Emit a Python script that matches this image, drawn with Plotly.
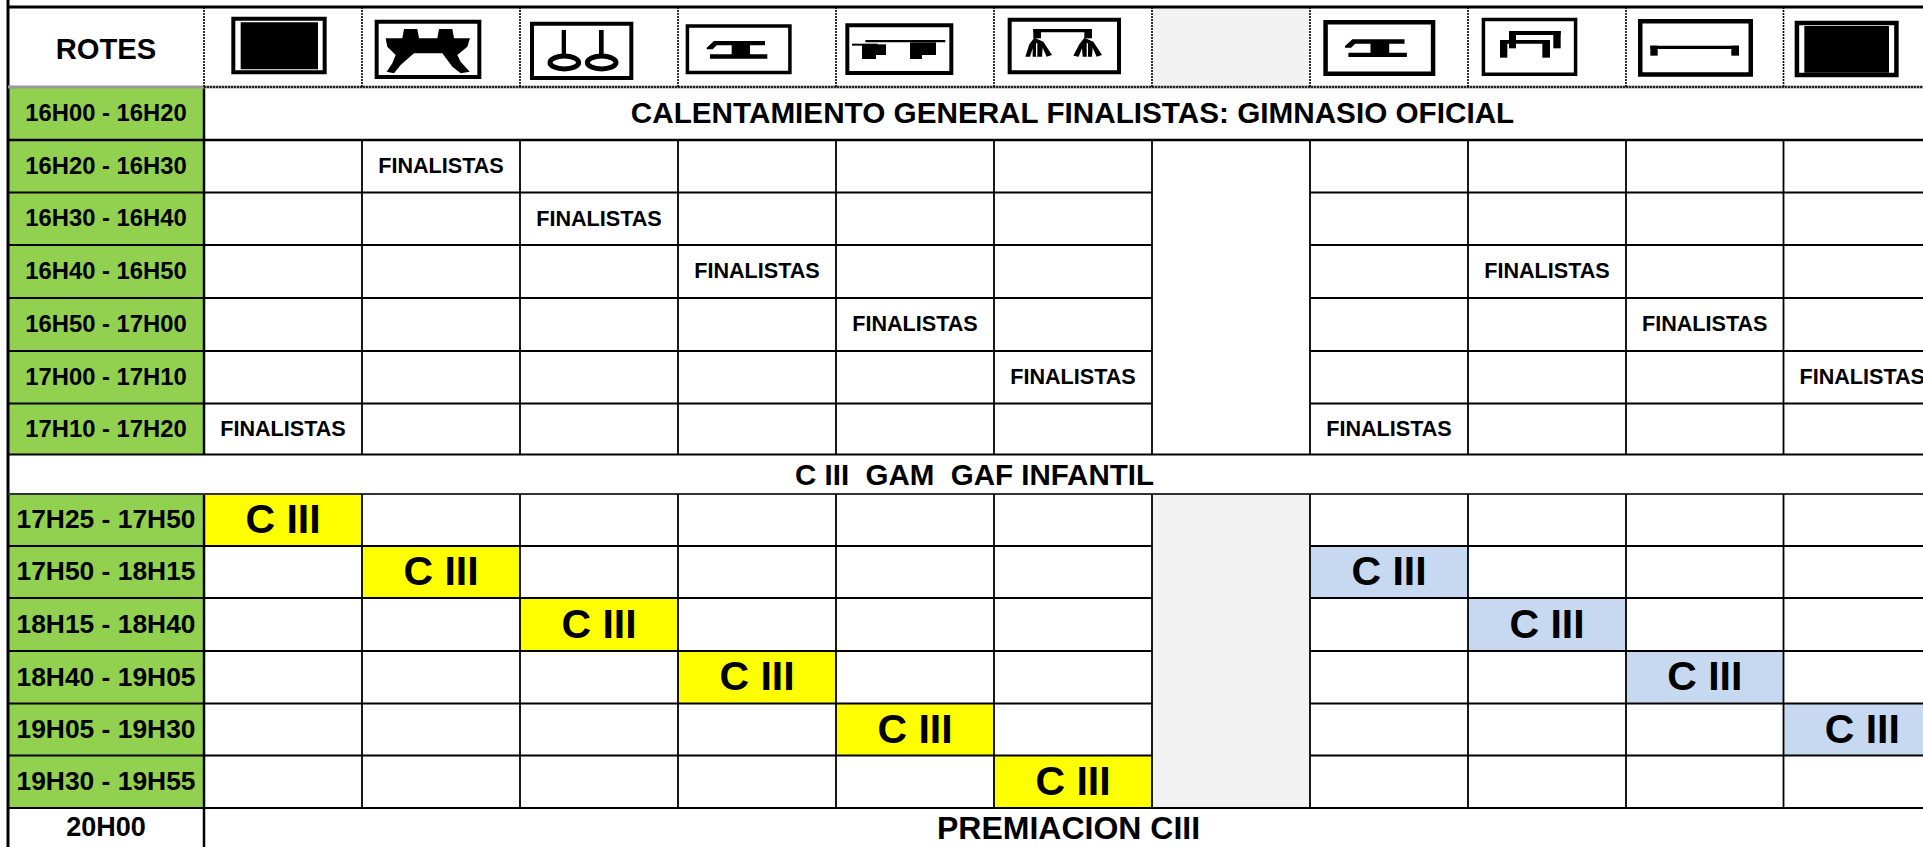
import plotly.graph_objects as go

# ---------- content ----------
corner_label = "ROTES"
warmup_time = "16H00 - 16H20"
warmup_title = "CALENTAMIENTO GENERAL FINALISTAS: GIMNASIO OFICIAL"
final_times = ["16H20 - 16H30", "16H30 - 16H40", "16H40 - 16H50", "16H50 - 17H00", "17H00 - 17H10", "17H10 - 17H20"]
section_title = "C III\u00a0 GAM\u00a0 GAF INFANTIL"
ciii_times = ["17H25 - 17H50", "17H50 - 18H15", "18H15 - 18H40", "18H40 - 19H05", "19H05 - 19H30", "19H30 - 19H55"]
award_time = "20H00"
award_title = "PREMIACION CIII"
final_label = "FINALISTAS"
ciii_label = "C III"
# (row in final_times, apparatus column)
final_cells = [(0, 1), (1, 2), (2, 3), (2, 8), (3, 4), (3, 9), (4, 5), (4, 10), (5, 0), (5, 7)]
# (row in ciii_times, apparatus column)
ciii_yellow = [(0, 0), (1, 1), (2, 2), (3, 3), (4, 4), (5, 5)]
ciii_blue = [(1, 7), (2, 8), (3, 9), (4, 10)]

# ---------- layout ----------
W, H = 1923, 847
LEFT, C0 = 8, 204
COLS = [204, 362, 520, 678, 836, 994, 1152, 1310, 1468, 1626, 1783.5, 1941]
GAP = 6
Y_TOP, Y_HEAD = 7, 87
Y_WARM = 140
Y_FINAL = [140, 192.5, 245, 298, 351, 403.5, 454.5]
Y_SECT = 494
Y_CIII = [494, 546, 598, 651, 703.5, 755.5, 808]
GREEN, YELLOW, BLUE, GREY = "#92D050", "#FFFF00", "#C6D9F0", "#F2F2F2"
FONT = "Liberation Sans"

shapes = []


def rect(x0, y0, x1, y1, fill):
    shapes.append(dict(type="rect", x0=x0, y0=y0, x1=x1, y1=y1, fillcolor=fill,
                       line=dict(width=0), layer="below"))


def line(x0, y0, x1, y1, w=2, dash="solid", color="#000000"):
    shapes.append(dict(type="line", x0=x0, y0=y0, x1=x1, y1=y1,
                       line=dict(width=w, color=color, dash=dash), layer="above"))


def poly(points, fill="#000000", ox=0, oy=5):
    d = "M " + " L ".join(f"{ox + x / 3:.2f},{oy + y / 3:.2f}" for x, y in points) + " Z"
    shapes.append(dict(type="path", path=d, fillcolor=fill, line=dict(width=0), layer="above"))


def box(x0, y0, x1, y1, ox, thick=4, oy=5):
    shapes.append(dict(type="rect", x0=ox + x0 / 3 + thick / 2, y0=oy + y0 / 3 + thick / 2,
                       x1=ox + x1 / 3 - thick / 2, y1=oy + y1 / 3 - thick / 2,
                       fillcolor="#FFFFFF", line=dict(width=thick, color="#000000"), layer="above"))


def bars(rs, ox, oy=5, fill="#000000"):
    for a, b, c, d in rs:
        poly([(a, b), (c, b), (c, d), (a, d)], ox=ox, oy=oy, fill=fill)


# ---------- fills ----------
rect(C0, Y_TOP, COLS[6], Y_HEAD, "#FFFFFF")
rect(COLS[GAP], Y_TOP, COLS[GAP + 1], Y_HEAD, GREY)
rect(COLS[GAP], Y_CIII[0], COLS[GAP + 1], Y_CIII[-1], GREY)
rect(LEFT, Y_HEAD, C0, Y_WARM, GREEN)
rect(LEFT, Y_FINAL[0], C0, Y_FINAL[-1], GREEN)
rect(LEFT, Y_CIII[0], C0, Y_CIII[-1], GREEN)
for cells, col in ((ciii_yellow, YELLOW), (ciii_blue, BLUE)):
    for r, c in cells:
        rect(COLS[c], Y_CIII[r], COLS[c + 1], Y_CIII[r + 1], col)

# ---------- rules ----------
line(LEFT, 0, LEFT, H, 3)
line(C0, Y_HEAD, C0, Y_FINAL[-1], 2.5)
line(C0, Y_CIII[0], C0, H, 2.5)
line(LEFT, Y_TOP, W, Y_TOP, 3)
line(LEFT, Y_HEAD, W, Y_HEAD, 3, color="#9a9a9a")
line(C0, Y_HEAD, W, Y_HEAD, 1.5, "2px,1px")
line(LEFT, Y_WARM, W, Y_WARM, 2.5)
for y in Y_FINAL[1:-1]:
    line(LEFT, y, COLS[GAP], y, 2.2)
    line(COLS[GAP + 1], y, W, y, 2.2)
line(LEFT, Y_FINAL[-1], W, Y_FINAL[-1], 2)
line(LEFT, Y_SECT, W, Y_SECT, 2, color="#333333")
for y in Y_CIII[1:-1]:
    line(LEFT, y, COLS[GAP], y, 2.2)
    line(COLS[GAP + 1], y, W, y, 2.2)
line(LEFT, Y_CIII[-1], W, Y_CIII[-1], 2.2)
for x in COLS[:-1]:
    line(x, Y_TOP, x, Y_HEAD, 1.6, "2px,1px")
    if x != C0:
        line(x, Y_FINAL[0], x, Y_FINAL[-1], 1.8)
        line(x, Y_CIII[0], x, Y_CIII[-1], 1.8)

# ---------- apparatus pictograms ----------
# floor
box(82, 35, 368, 208, 204)
bars([(110, 52, 342, 193)], 204)
# pommel horse
box(512, 44, 832, 222, 204)
poly([(600, 72), (640, 72), (645, 100), (700, 100), (705, 72), (745, 72), (750, 100), (798, 100), (790, 125),
      (760, 150), (770, 170), (797, 200), (770, 205), (745, 185), (715, 145), (630, 145), (590, 180), (570, 205),
      (548, 200), (565, 175), (575, 150), (550, 125), (545, 100), (595, 100)], ox=204)
# rings
box(30, 50, 340, 225, 520)
bars([(125, 75, 138, 150), (237, 75, 251, 150)], 520)
for cx in (133, 245):
    shapes.append(dict(type="circle", x0=520 + (cx - 43) / 3, y0=5 + 153 / 3, x1=520 + (cx + 43) / 3, y1=5 + 192 / 3,
                       line=dict(width=5, color="#000000"), fillcolor="#FFFFFF", layer="above"))


# vault / beam pictogram
def beam(ox, dx, dy, sx=1.0):
    f = lambda x: dx + x * sx
    poly([(f(0), 25), (f(22), 5), (f(175), 5), (f(175), 18), (f(130), 18), (f(130), 45), (f(182), 45), (f(182), 58),
          (f(10), 58), (f(10), 45), (f(75), 45), (f(75), 18), (f(30), 18), (f(18), 30), (f(0), 30)],
         ox=ox, oy=5 + dy / 3)


box(497, 58, 815, 208, 520, 3.5)
beam(520, 560, 103)
# parallel bars side view
box(28, 55, 352, 210, 836)
bars([(88, 105, 328, 112), (48, 116, 125, 122), (78, 118, 150, 150), (78, 150, 120, 162),
      (222, 112, 300, 150), (222, 150, 258, 162)], 836)
# high rings frame
box(515, 38, 855, 208, 836)
bars([(592, 72, 768, 82), (592, 72, 615, 100), (745, 72, 768, 100)], 836)
poly([(595, 98), (622, 110), (648, 150), (632, 155), (620, 128), (618, 155), (590, 155), (590, 130), (582, 155),
      (568, 155), (580, 118)], ox=836)
poly([(745, 98), (772, 110), (798, 150), (782, 155), (770, 128), (768, 155), (740, 155), (738, 130), (728, 155),
      (712, 152), (730, 118)], ox=836)
bars([(600, 115, 604, 155), (752, 115, 756, 155)], 836, fill="#FFFFFF")
# beam, women
box(40, 45, 376, 213, 1310, 4.5)
beam(1310, 105, 98, 1.02)
# uneven bars
box(515, 38, 802, 213, 1310, 3.5)
bars([(597, 78, 752, 90), (597, 78, 618, 130), (730, 78, 752, 130), (570, 105, 720, 116), (570, 105, 592, 158),
      (697, 105, 720, 158)], 1310)
# horizontal bar
box(45, 42, 390, 215, 1623, 4.5)
bars([(82, 122, 348, 132), (82, 122, 104, 152), (325, 122, 348, 152)], 1623)
# floor, women
box(515, 47, 827, 217, 1623, 4.5)
bars([(544, 63, 798, 203)], 1623)


# ---------- text ----------
def mid(a, i):
    return (a[i] + a[i + 1]) / 2


def col_mid(c):
    return (COLS[c] + COLS[c + 1]) / 2


def texts(items, size):
    drop = size * 0.07
    fig.add_trace(go.Scatter(x=[i[0] for i in items], y=[i[1] + drop for i in items], text=[i[2] for i in items],
                             mode="text", textposition="middle center", hoverinfo="skip", showlegend=False,
                             textfont=dict(family=FONT, size=size, color="#000000", weight="bold")))


fig = go.Figure()
LABEL_X = (LEFT + C0) / 2
texts([(LABEL_X, (Y_TOP + Y_HEAD) / 2 + 3, corner_label)], 29.2)
texts([(LABEL_X, (Y_HEAD + Y_WARM) / 2, warmup_time)] +
      [(LABEL_X, mid(Y_FINAL, i), t) for i, t in enumerate(final_times)], 23.8)
texts([(LABEL_X, mid(Y_CIII, i), t) for i, t in enumerate(ciii_times)], 26.4)
texts([(LABEL_X, (Y_CIII[-1] + H) / 2, award_time)], 27)
texts([(col_mid(c), mid(Y_FINAL, r), final_label) for r, c in final_cells], 21.6)
texts([(col_mid(c), mid(Y_CIII, r), ciii_label) for r, c in ciii_yellow + ciii_blue], 41)
texts([((C0 + COLS[-1]) / 2, (Y_HEAD + Y_WARM) / 2, warmup_title)], 29.7)
texts([((LEFT + COLS[-1]) / 2, (Y_FINAL[-1] + Y_SECT) / 2 + 1.5, section_title)], 29.5)
texts([((C0 + COLS[-1]) / 2 - 4, (Y_CIII[-1] + H) / 2 + 1, award_title)], 32)

fig.update_layout(
    width=W, height=H, margin=dict(l=0, r=0, t=0, b=0, pad=0), autosize=False,
    paper_bgcolor="#FFFFFF", plot_bgcolor="#FFFFFF", shapes=shapes, showlegend=False,
    xaxis=dict(range=[0, W], visible=False, fixedrange=True),
    yaxis=dict(range=[H, 0], visible=False, fixedrange=True),
)
html_style = {"displayModeBar": False}
fig.write_html("out.html", config=html_style, include_plotlyjs=True, full_html=True,
               default_width=f"{W}px", default_height=f"{H}px",
               post_script="document.body.style.margin='0';")
